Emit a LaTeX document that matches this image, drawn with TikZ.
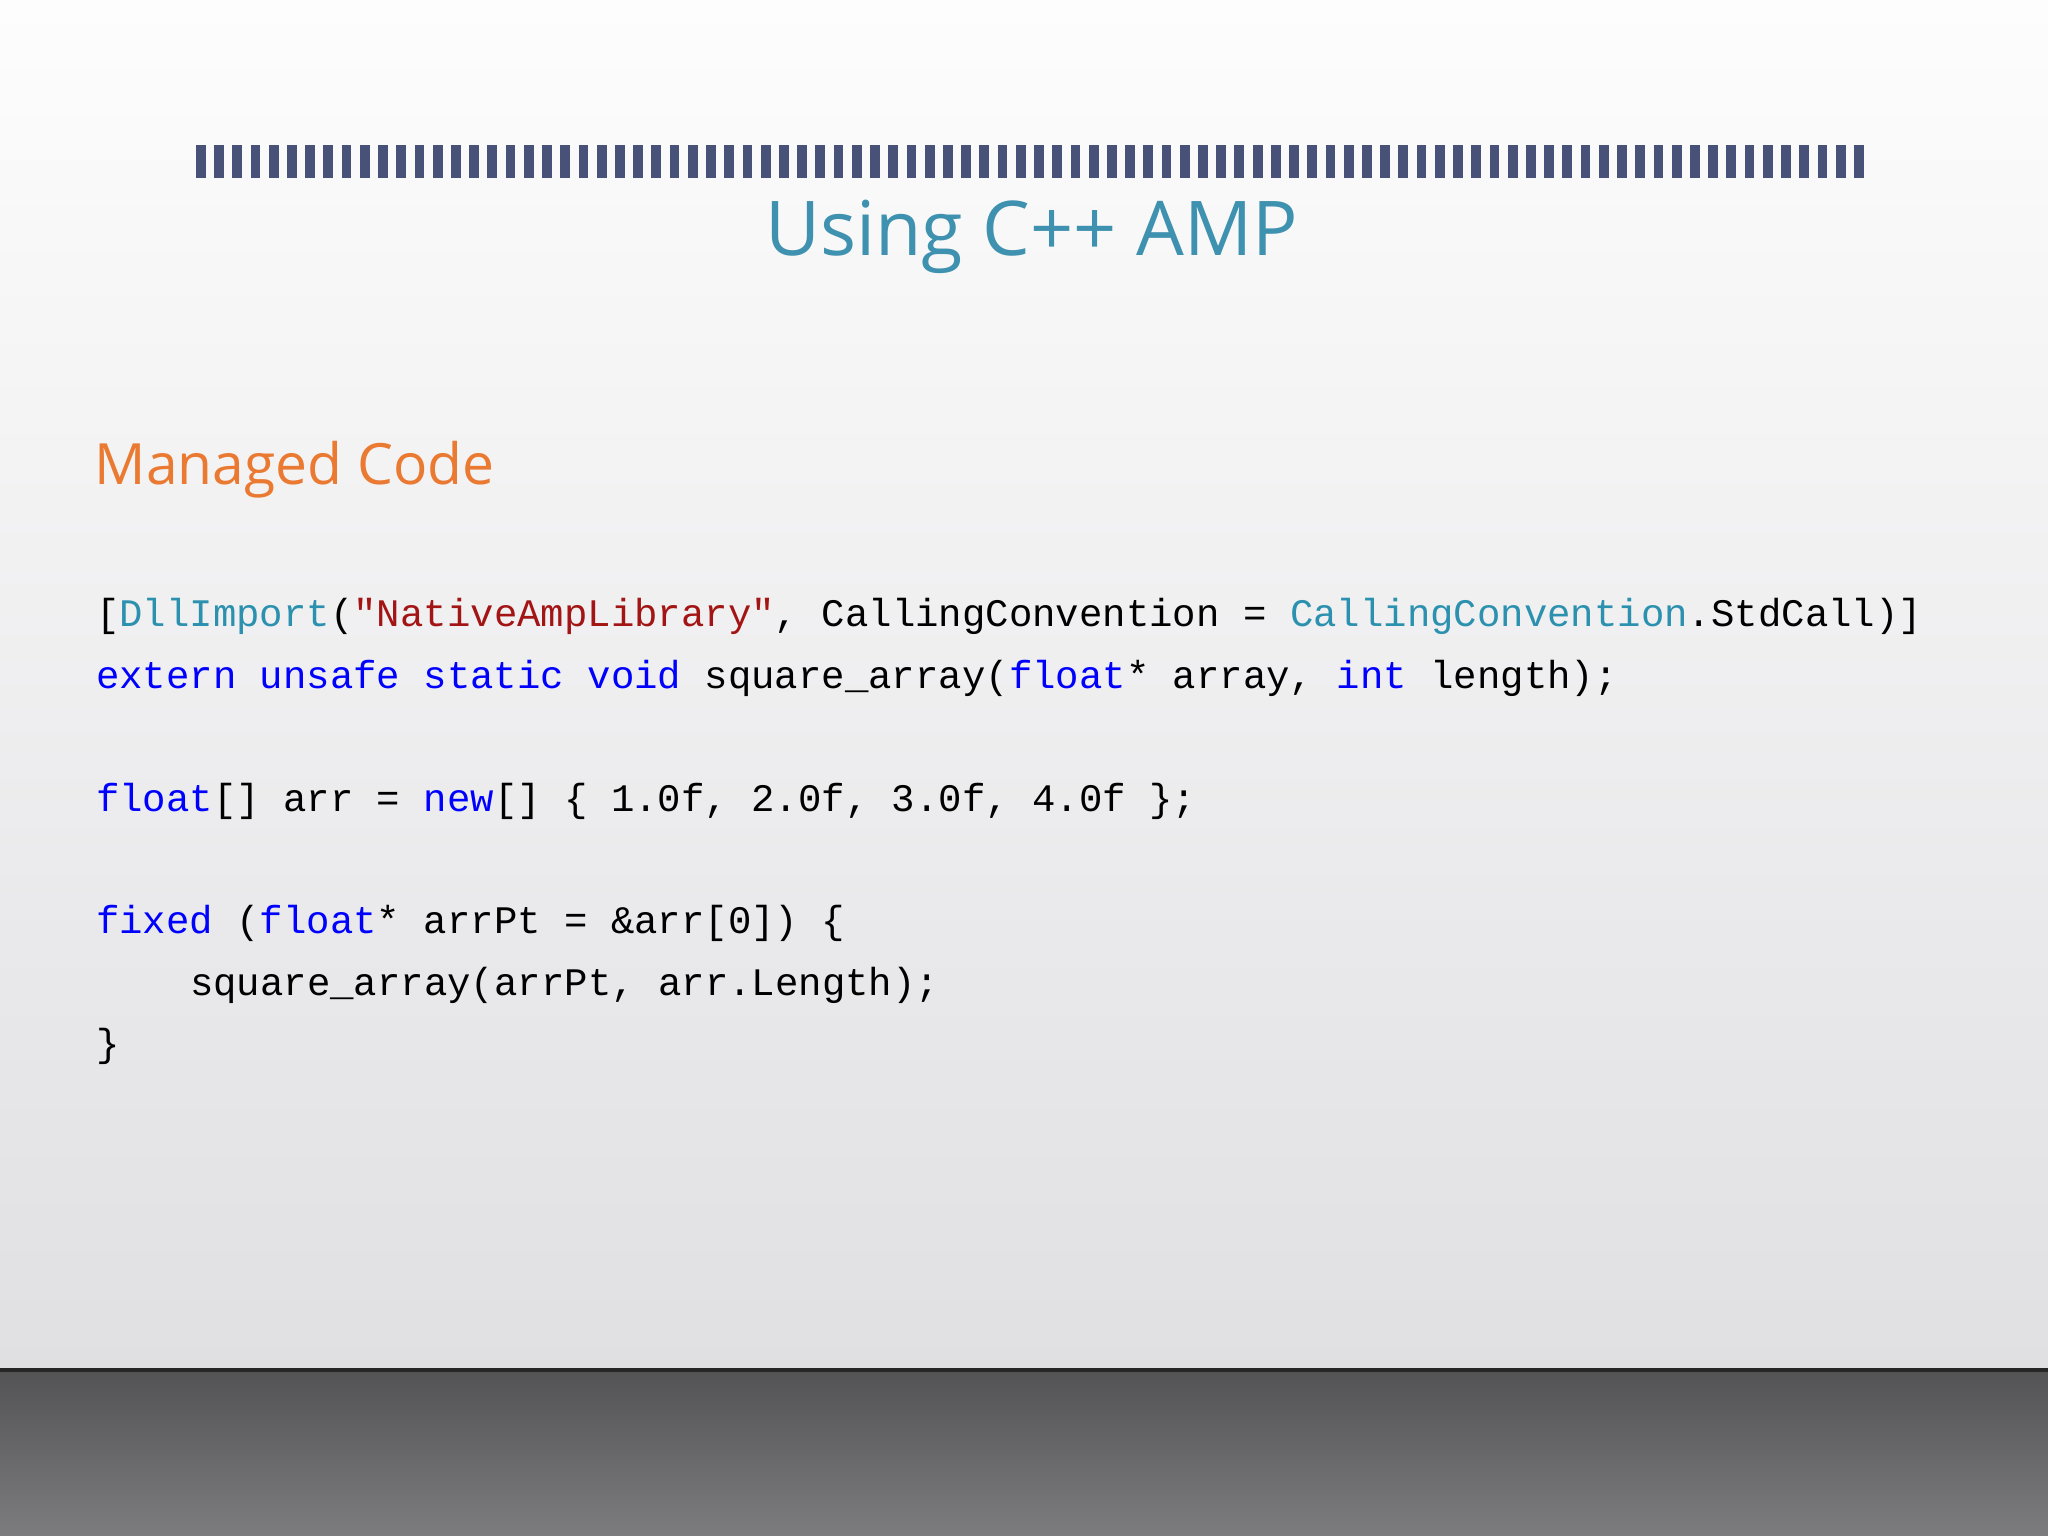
\documentclass[tikz,border=0pt]{standalone}
\usepackage{fontspec}
\setmainfont{Open Sans}
\newfontfamily\codef{Liberation Mono}
\definecolor{kw}{RGB}{0,0,255}
\definecolor{ty}{RGB}{43,145,175}
\definecolor{st}{RGB}{163,21,21}
\definecolor{ttl}{RGB}{62,145,175}
\definecolor{org}{RGB}{234,122,50}
\definecolor{bgtop}{RGB}{253,253,253}
\definecolor{bgbot}{RGB}{224,223,226}
\definecolor{floor}{RGB}{110,110,112}
\definecolor{stripe}{RGB}{72,82,120}
\tikzset{codeline/.style={anchor=base west,inner sep=0pt,font=\codef\fontsize{11.1pt}{13pt}\selectfont}}
\begin{document}
\begin{tikzpicture}[x=0.013061cm,y=-0.013061cm]
\useasboundingbox (0,0) rectangle (1568,1176);
\shade[top color=bgtop,bottom color=bgbot] (0,0) rectangle (1568,1048);
\shade[top color=floor!75!black,bottom color=floor!90] (0,1048) rectangle (1568,1176);
\draw[line width=1.2pt,black!85] (0,1049) -- (1568,1049);
\foreach \i in {0,...,91} {\fill[stripe] (150+\i*13.95,111) rectangle ++(7.5,25);}
\node[anchor=base,inner sep=0pt,text=ttl,font=\fontsize{21.5pt}{26pt}\selectfont] (title) at (790,196) {Using C++ AMP};
\node[anchor=base west,inner sep=0pt,text=org,font=\fontsize{16.2pt}{20pt}\selectfont] (head) at (72,371) {Managed Code};
\node[codeline] (l1) at (73,480) {[\textcolor{ty}{DllImport}(\textcolor{st}{"NativeAmpLibrary"}, CallingConvention = \textcolor{ty}{CallingConvention}.StdCall)]};
\node[codeline] (l2) at (73,527) {\textcolor{kw}{extern unsafe static void} square\_array(\textcolor{kw}{float}* array, \textcolor{kw}{int} length);};
\node[codeline] (l3) at (73,621) {\textcolor{kw}{float}[] arr = \textcolor{kw}{new}[] \{ 1.0f, 2.0f, 3.0f, 4.0f \};};
\node[codeline] (l4) at (73,715) {\textcolor{kw}{fixed} (\textcolor{kw}{float}* arrPt = \&arr[0]) \{};
\node[codeline] (l5) at (145,762) {square\_array(arrPt, arr.Length);};
\node[codeline] (l6) at (73,809) {\}};
\end{tikzpicture}
\end{document}
